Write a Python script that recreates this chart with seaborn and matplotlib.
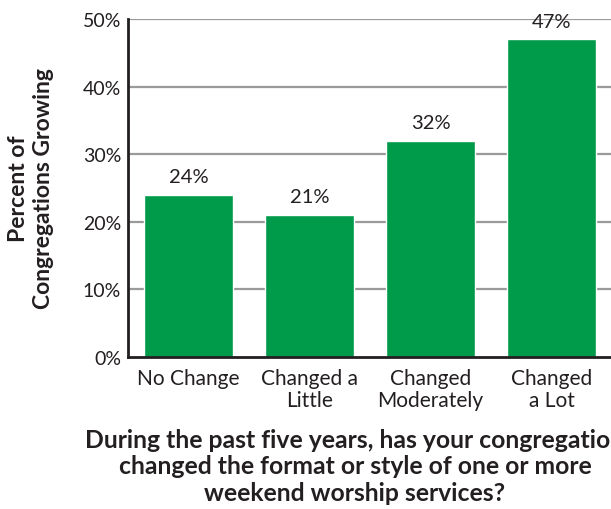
import matplotlib
matplotlib.use("Agg")
import matplotlib.pyplot as plt
import seaborn as sns
import pandas as pd
from matplotlib.ticker import FixedLocator

categories = ["No Change", "Changed a\nLittle", "Changed\nModerately", "Changed\na Lot"]
values = [24, 21, 32, 47]
yticks = [0, 10, 20, 30, 40, 50]
ytick_labels = ["0%", "10%", "20%", "30%", "40%", "50%"]

sns.set_style("white")
plt.rcParams['font.family'] = ['Lato', 'DejaVu Sans']

df = pd.DataFrame({"cat": categories, "val": values})

fig = plt.figure(figsize=(6.11, 5.10), dpi=100)
ax = fig.add_axes([128/611, 1 - 358/510, 484/611, 338/510])

ax.set_axisbelow(True)
for t in yticks[1:]:
    ax.axhline(t, color="#9a9a9a", lw=1.6, zorder=0)

sns.barplot(data=df, x="cat", y="val", color="#009A4B", width=0.73,
            saturation=1, ax=ax, zorder=2)

ax.set_ylim(0, 50)
ax.set_xlim(-0.5, 3.5)
ax.set_yticks(yticks)
ax.set_yticklabels(ytick_labels)
ax.tick_params(axis="y", length=0, pad=5, labelsize=14, colors="#231f20")
ax.tick_params(axis="x", which="major", length=0, pad=8, labelsize=15, colors="#231f20")
ax.xaxis.set_minor_locator(FixedLocator([0.5, 1.5, 2.5, 3.5]))
ax.tick_params(axis="x", which="minor", direction="in", length=6, width=2, color="#231f20")

for lbl in ax.get_xticklabels():
    lbl.set_linespacing(1.1)

for s in ["top", "right"]:
    ax.spines[s].set_visible(False)
for s in ["left", "bottom"]:
    ax.spines[s].set_color("#231f20")
    ax.spines[s].set_linewidth(2)

for i, v in enumerate(values):
    ax.annotate(f"{v}%", (i, v), xytext=(0, 7), textcoords="offset points",
                ha="center", va="bottom", fontsize=14.5, color="#231f20")

ax.set_ylabel("Percent of\nCongregations Growing", fontsize=16.5, fontweight="bold",
              color="#231f20", linespacing=1.25)
ax.yaxis.set_label_coords((31 - 128) / 484, 0.5)
ax.yaxis.label.set_va("center")

ax.set_xlabel("During the past five years, has your congregation\nchanged the format or style of one or more\nweekend worship services?",
              fontsize=17.8, fontweight="bold", color="#231f20", linespacing=1.18)
ax.xaxis.set_label_coords((355 - 128) / 484, -0.21)
ax.xaxis.label.set_va("top")

fig.savefig("out.png", dpi=100)
